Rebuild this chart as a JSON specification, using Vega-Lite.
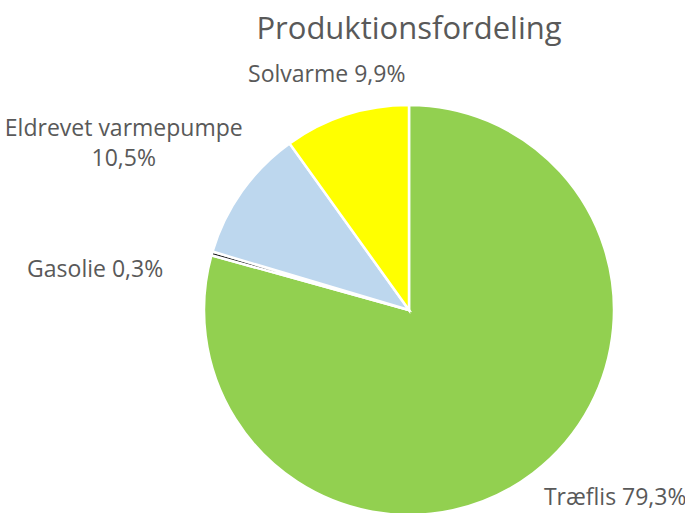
{
  "$schema": "https://vega.github.io/schema/vega-lite/v6.json",
  "autosize": "none",
  "width": 410,
  "height": 410,
  "padding": {"left": 204, "top": 105, "right": 71, "bottom": 0},
  "background": "white",
  "title": {
    "text": "Produktionsfordeling",
    "font": "Open Sans",
    "fontSize": 31,
    "fontWeight": "normal",
    "color": "#595959",
    "anchor": "middle",
    "offset": 18
  },
  "data": {
    "values": [
      {"Kategori": "Træflis", "Andel": 79.3, "Etiket": "Træflis 79,3%"},
      {"Kategori": "Gasolie", "Andel": 0.3, "Etiket": "Gasolie 0,3%"},
      {"Kategori": "Eldrevet varmepumpe", "Andel": 10.5, "Etiket": "Eldrevet varmepumpe\n10,5%"},
      {"Kategori": "Solvarme", "Andel": 9.9, "Etiket": "Solvarme 9,9%"}
    ]
  },
  "transform": [{"window": [{"op": "row_number", "as": "nr"}]}],
  "encoding": {
    "theta": {"field": "Andel", "type": "quantitative", "stack": true},
    "order": {"field": "nr", "type": "quantitative"}
  },
  "layer": [
    {
      "mark": {"type": "arc", "stroke": "white", "strokeWidth": 2.5},
      "encoding": {
        "color": {
          "field": "Kategori",
          "type": "nominal",
          "scale": {
            "domain": ["Træflis", "Gasolie", "Eldrevet varmepumpe", "Solvarme"],
            "range": ["#92D050", "#1f1f1f", "#BDD7EE", "#FFFF00"]
          },
          "legend": null
        }
      }
    },
    {
      "mark": {
        "type": "text",
        "radius": 236,
        "font": "Open Sans",
        "fontSize": 23,
        "color": "#595959",
        "baseline": "middle",
        "lineBreak": "\n",
        "lineHeight": 30,
        "align": {"expr": "datum.Kategori == 'Træflis' ? 'left' : (datum.Kategori == 'Gasolie' ? 'right' : 'center')"},
        "dx": {"expr": "datum.Kategori == 'Træflis' ? -8 : (datum.Kategori == 'Gasolie' ? -19 : (datum.Kategori == 'Solvarme' ? -10 : -93))"},
        "dy": {"expr": "datum.Kategori == 'Træflis' ? 0 : (datum.Kategori == 'Gasolie' ? 25 : (datum.Kategori == 'Solvarme' ? -10 : -44))"}
      },
      "encoding": {
        "text": {"field": "Etiket", "type": "nominal"}
      }
    }
  ]
}
